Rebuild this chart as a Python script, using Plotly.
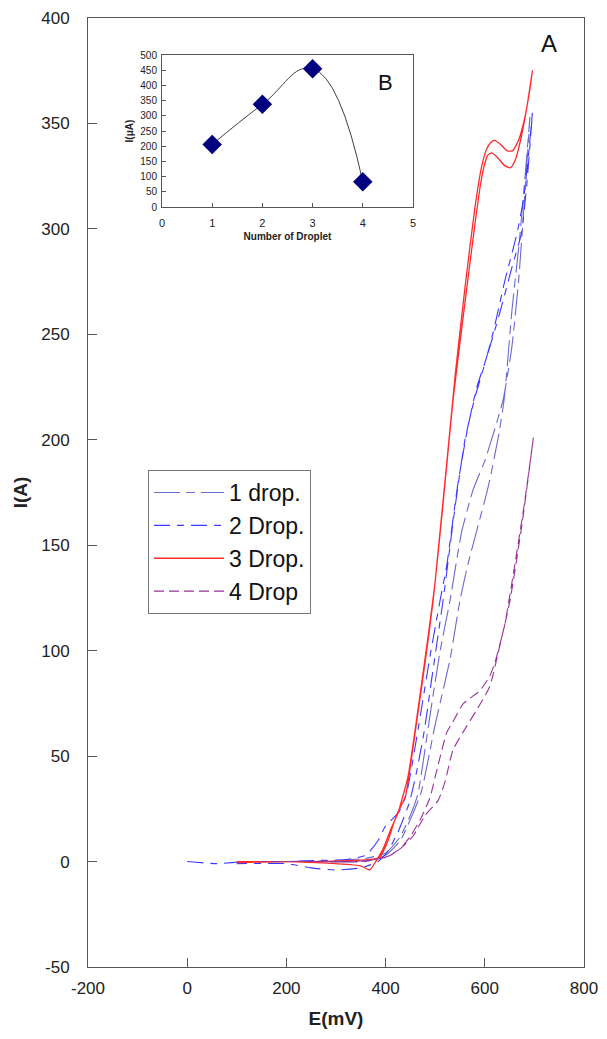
import plotly.graph_objects as go

# ---------------- data ----------------
# 1 drop (slate blue, long dash)
drop1_E = [100, 200, 300, 360, 400, 430, 450, 465, 490, 510, 530, 553, 576, 586, 600, 620, 637, 654, 668, 680, 691,
           683, 670, 655, 639, 627, 610, 603, 585, 566, 550, 530, 500, 472, 450, 430, 400, 360, 250, 100]
drop1_I = [0, 0, 0.5, 1.5, 4, 12, 22, 32, 70, 100, 124, 156, 176, 182, 190, 205, 219, 243, 275, 314, 353,
           330, 295, 262, 219, 201, 181, 174, 158, 141, 124, 96, 65, 33, 20, 10, 3, 0, 0, 0]

# 2 Drop (blue, dash)
drop2_E = [0, 60, 120, 200, 260, 320, 360, 385, 400, 413, 428, 442, 465, 490, 510, 523, 545, 565, 584, 605, 630, 655, 674, 685, 696,
           688, 678, 665, 640, 617, 600, 580, 560, 540, 516, 495, 478, 462, 448, 425, 405, 385, 350, 300, 250, 200, 100]
drop2_I = [0, -1, 0, 0, 0.5, 1, 3, 10, 17, 20, 24, 32, 62, 98, 124, 140, 178, 205, 225, 240, 260, 282, 298, 322, 355,
           335, 314, 298, 275, 251, 236, 220, 200, 168, 124, 90, 62, 42, 28, 14, 5, 0, -3, -4, -3, -1, -1]

# 3 Drop (red, solid)
drop3_E = [100, 250, 340, 370, 388, 405, 419, 425, 440, 460, 480, 496, 516, 536, 560, 580, 592, 600, 606, 614, 625, 640, 652, 662, 672, 685, 696,
           690, 680, 668, 656, 645, 632, 620, 612, 604, 594, 580, 560, 540, 500, 470, 445, 430, 425, 410, 395, 380, 368, 350, 300, 200, 100]
drop3_I = [0, 0, 0.5, 1, 2, 10, 20, 23.5, 31, 62, 95, 124, 170, 219, 265, 302, 322, 331, 335, 336, 334, 330, 329, 333, 342, 358, 375,
           365, 352, 342, 337, 337, 340, 342, 341, 338, 330, 310, 272, 230, 133, 80, 40, 27, 23, 15, 6, 0, -4, -2, -1, 0, -0.5]

# 4 Drop (purple, short dash)
drop4_E = [150, 250, 330, 380, 410, 429, 455, 480, 506, 520, 536, 563, 584, 610, 627, 651, 675, 698,
           680, 660, 640, 627, 620, 610, 590, 557, 535, 523, 505, 489, 470, 450, 429, 400, 350, 250, 150]
drop4_I = [0, 0, 0, 1, 3, 6, 12, 22, 29, 38, 53, 64, 72, 83, 99, 124, 160, 201,
           170, 140, 112, 100, 94, 88, 81, 75, 66, 61, 45, 30, 20, 12, 6, 2, 0, 0, 0]

series_names = ["1 drop.", "2 Drop.", "3 Drop.", "4 Drop"]

# inset B
droplets = [1, 2, 3, 4]
inset_I = [206, 338, 455, 83]

x_ticks = [-200, 0, 200, 400, 600, 800]
y_ticks = [-50, 0, 50, 100, 150, 200, 250, 300, 350, 400]
inset_y_ticks = list(range(0, 501, 50))
inset_x_ticks = [0, 1, 2, 3, 4, 5]

FONT = "Liberation Sans, Arial, sans-serif"

fig = go.Figure()

styles = [
    dict(color="#6a6acd", width=1.1, dash="26px,6px,9px,6px", shape="spline", smoothing=0.5),
    dict(color="#3a3aff", width=1.1, dash="16px,7px,7px,7px", shape="spline", smoothing=0.5),
    dict(color="#ff2a2a", width=1.3, dash="solid", shape="spline", smoothing=0.5),
    dict(color="#993399", width=1.1, dash="10px,5px", shape="spline", smoothing=0.5),
]
data = [(drop1_E, drop1_I), (drop2_E, drop2_I), (drop3_E, drop3_I), (drop4_E, drop4_I)]
for i, ((E, I), name, st) in enumerate(zip(data, series_names, styles)):
    fig.add_trace(go.Scatter(x=E, y=I, mode="lines", name=name, line=st,
                             legendgroup=f"g{i}", xaxis="x", yaxis="y"))

fig.add_trace(go.Scatter(x=droplets, y=inset_I, mode="lines+markers", showlegend=False,
                         line=dict(color="#404040", width=1, shape="spline", smoothing=1.3),
                         marker=dict(symbol="diamond", size=15, color="#000080"),
                         xaxis="x2", yaxis="y2"))

def lbl(v):
    return str(v)

# page body has an 8px default margin, so the figure is shrunk by 8px and margins shifted
fig.update_layout(
    width=599, height=1031,
    margin=dict(l=80, r=23, t=10, b=72, autoexpand=False),
    paper_bgcolor="white", plot_bgcolor="white",
    font=dict(family=FONT, color="#222222"),
    xaxis=dict(range=[-200, 800], tickvals=x_ticks, ticktext=[lbl(v) for v in x_ticks],
               ticks="inside", ticklen=9, tickcolor="#555", automargin=False,
               showline=True, linecolor="#555", linewidth=1, mirror=True, showgrid=False, zeroline=False,
               tickfont=dict(size=17), ticklabelstandoff=6,
               title=dict(text="<b>E(mV)</b>", font=dict(size=19), standoff=14)),
    yaxis=dict(range=[-50, 400], tickvals=y_ticks, ticktext=[lbl(v) for v in y_ticks],
               ticks="inside", ticklen=9, tickcolor="#555", automargin=False,
               showline=True, linecolor="#555", linewidth=1, mirror=True, showgrid=False, zeroline=False,
               tickfont=dict(size=17), ticklabelstandoff=14,
               title=dict(text="<b>I(A)</b>", font=dict(size=19), standoff=8)),
    xaxis2=dict(domain=[0.1492, 0.6552], anchor="y2", range=[0, 5], tickvals=inset_x_ticks,
                ticks="inside", ticklen=4, tickcolor="#555", showline=True, linecolor="#555", linewidth=1,
                mirror=True, showgrid=False, zeroline=False, tickfont=dict(size=11), ticklabelstandoff=6,
                automargin=False,
                title=dict(text="<b>Number of Droplet</b>", font=dict(size=10), standoff=4)),
    yaxis2=dict(domain=[0.8008, 0.9610], anchor="x2", range=[0, 500], tickvals=inset_y_ticks,
                ticks="inside", ticklen=4, tickcolor="#555", showline=True, linecolor="#555", linewidth=1,
                mirror=True, showgrid=False, zeroline=False, tickfont=dict(size=10), ticklabelstandoff=2,
                automargin=False,
                title=dict(text="<b>I(μA)</b>", font=dict(size=10), standoff=4)),
    legend=dict(x=0.121, y=0.5237, xanchor="left", yanchor="top", bgcolor="white",
                bordercolor="#777", borderwidth=1, font=dict(size=23, color="#111"),
                itemwidth=70, tracegroupgap=5, traceorder="normal"),
    annotations=[
        dict(x=730, y=388, xref="x", yref="y", text="A", showarrow=False, font=dict(size=24, color="#111")),
        dict(x=4.45, y=408, xref="x2", yref="y2", text="B", showarrow=False, font=dict(size=22, color="#111")),
    ],
)

fig.write_html("out.html")
